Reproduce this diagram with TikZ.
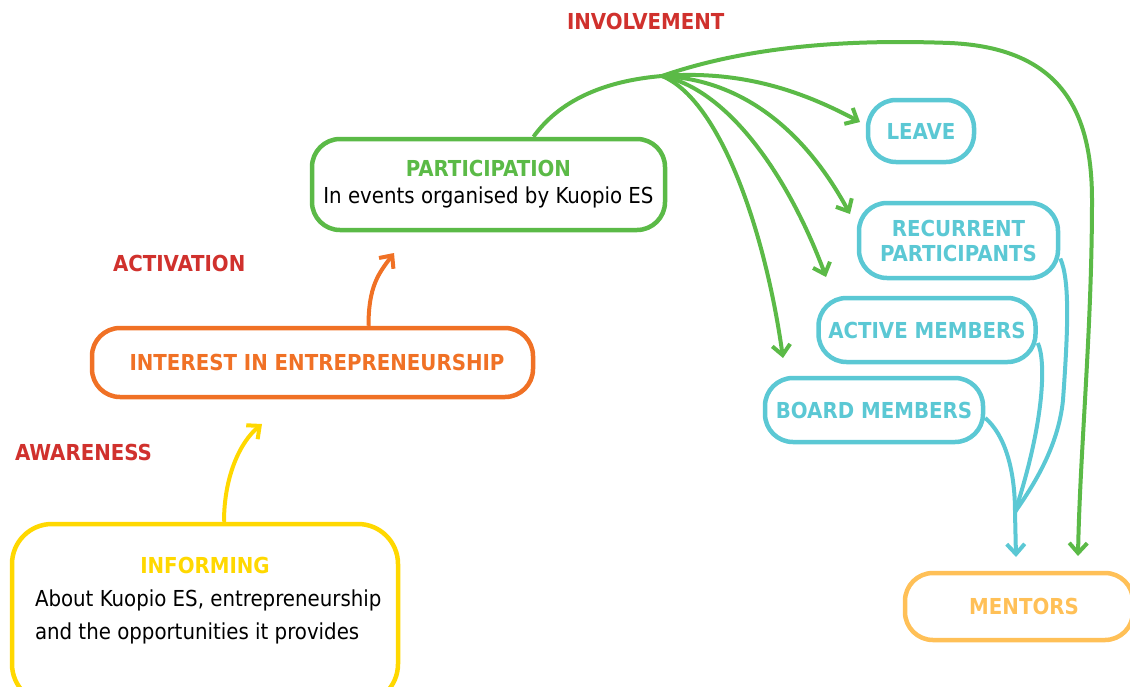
\documentclass[tikz,border=0pt]{standalone}
\usepackage{fontspec}
\setmainfont{DejaVu Sans Condensed}
\usetikzlibrary{arrows.meta}
\usetikzlibrary{positioning}
\definecolor{kgreen}{HTML}{5BBA47}
\definecolor{korange}{HTML}{F07125}
\definecolor{kyellow}{HTML}{FFD800}
\definecolor{kcyan}{HTML}{5BC8D4}
\definecolor{kmentor}{HTML}{FFC057}
\definecolor{kred}{HTML}{D0312D}
\tikzset{stage node/.style={draw,rounded corners=28pt,line width=4.5pt,inner sep=0pt,font=\bfseries\fontsize{22}{25}\selectfont},  }

\begin{document}
\begin{tikzpicture}[x=1pt,y=-1pt,line width=4pt,
        flow/.style={-{Straight Barb[length=10pt,width=18pt]}},
        phase/.style={text=kred,inner sep=0pt,font=\bfseries\fontsize{22}{24}\selectfont}]
   \useasboundingbox (0,0) rectangle (1130,686);
   \node[stage node,draw=kyellow,rounded corners=40pt,minimum width=386pt,minimum height=180pt] (inform) at (205,614) {};
   \node[text=kyellow,font=\bfseries\fontsize{22}{25}\selectfont] (informT) at (205,565) {INFORMING};
   \node[anchor=west,align=left,inner sep=0pt,font=\fontsize{22}{33}\selectfont] (informB) at (33,617) {About Kuopio ES, entrepreneurship\\and the opportunities it provides};
   \node[stage node,draw=korange,text=korange,minimum width=441pt,minimum height=69pt] (interest) at (312.5,362.5) {\hspace*{9pt}INTEREST IN ENTREPRENEURSHIP};
   \node[stage node,draw=kgreen,minimum width=353pt,minimum height=91pt,align=center,font=\bfseries\fontsize{22}{27}\selectfont] (part) at (488.5,184.5) {\textcolor{kgreen}{PARTICIPATION}\\{\mdseries In events organised by Kuopio ES}};
   \node[stage node,draw=kcyan,text=kcyan,minimum width=106pt,minimum height=62pt] (leave) at (921,131) {LEAVE};
   \node[stage node,draw=kcyan,text=kcyan,minimum width=199pt,minimum height=75pt,align=center] (recur) at (958.5,240.5) {RECURRENT\\PARTICIPANTS};
   \node[stage node,draw=kcyan,text=kcyan,minimum width=217pt,minimum height=64pt] (active) at (927,330) {ACTIVE MEMBERS};
   \node[stage node,draw=kcyan,text=kcyan,minimum width=218pt,minimum height=64pt] (board) at (874,410) {BOARD MEMBERS};
   \node[stage node,draw=kmentor,text=kmentor,minimum width=228pt,minimum height=67pt] (mentors) at (1019,606.5) {\hspace*{10pt}MENTORS};

   \node[phase,anchor=west] (aware) at (13,452) {AWARENESS};
   \node[phase,anchor=west] (activ) at (111,263) {ACTIVATION};
   \node[phase,anchor=west] (involve) at (565,21) {INVOLVEMENT};

   \coordinate (awareTip) at (262,424);
   \coordinate (activTip) at (394,253);
   \coordinate (hub) at (662,76);
   \coordinate (leaveTip) at (860,122);
   \coordinate (recurTip) at (850,214);
   \coordinate (activeTip) at (826,277);
   \coordinate (boardTip) at (783,358);
   \coordinate (mentorTip) at (1078,556);
   \coordinate (merge) at (1015,512);
   \coordinate (cyanTip) at (1016,557);

   \draw[kyellow,flow] ([xshift=19pt]inform.north) .. controls +(0,-45) and +(-22,18) .. (awareTip);
   \draw[korange,flow] ([xshift=56pt]interest.north) .. controls +(0,-40) and +(-15,20) .. (activTip);
   \draw[kgreen] ([xshift=45pt]part.north) .. controls +(25,-35) and +(-60,5) .. (hub);
   \draw[kgreen,flow] (hub) .. controls (740,70) and (800,90) .. (leaveTip);
   \draw[kgreen,flow] (hub) .. controls (750,80) and (810,140) .. (recurTip);
   \draw[kgreen,flow] (hub) .. controls (730,90) and (790,180) .. (activeTip);
   \draw[kgreen,flow] (hub) .. controls (720,100) and (765,230) .. (boardTip);
   \draw[kgreen,flow] (hub) .. controls (760,42) and (870,40) .. (950,43) .. controls (1060,48) and (1092,110) .. (1092,200) .. controls (1092,330) and (1080,450) .. (mentorTip);

   \draw[kcyan] ([yshift=-18pt]recur.east) .. controls (1070,280) and (1068,330) .. (1063,400) .. controls (1058,450) and (1030,490) .. (merge);
   \draw[kcyan] ([yshift=-13pt]active.east) .. controls (1046,360) and (1045,420) .. (merge);
   \draw[kcyan,flow] ([yshift=-8pt]board.east) .. controls (1005,435) and (1015,470) .. (merge) -- (cyanTip);
\end{tikzpicture}
\end{document}
